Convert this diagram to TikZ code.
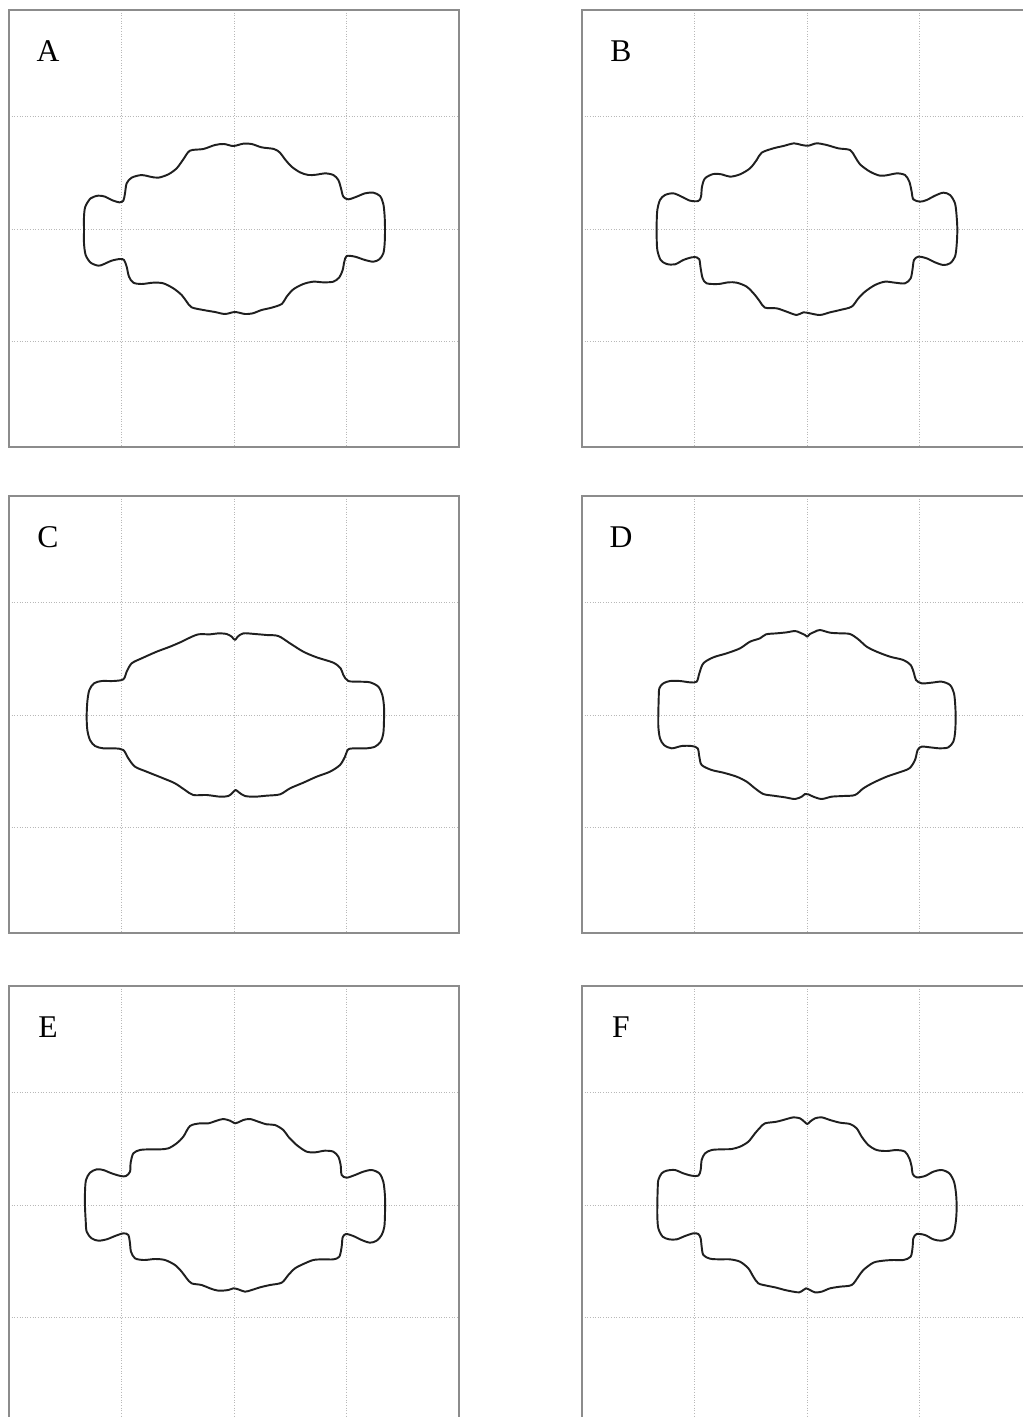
\documentclass[tikz,border=0pt]{standalone}
\usepackage{fontspec}
\setmainfont{Liberation Serif}
\usetikzlibrary{positioning}
\newcommand{\panelgrid}{%
  \draw[grid line] (-112.5,-219) -- (-112.5,218) (0,-219) -- (0,218) (112.5,-219) -- (112.5,218)
    (-225,-112.5) -- (225,-112.5) (-225,0) -- (225,0) (-225,112.5) -- (225,112.5);
  \draw[frame line] (-225,-219) rectangle (225,218);}

\begin{document}
\begin{tikzpicture}[x=0.02cm,y=-0.02cm,
  grid line/.style={draw=black!28,densely dotted,line width=0.5pt},
  frame line/.style={draw=black!45,line width=0.9pt},
  outline/.style={draw=black!88,line width=1.1pt,line join=round},
  panel label/.style={font=\fontsize{18}{20}\selectfont,inner sep=0pt}]
\clip (0,0) rectangle (1023,1417);
\fill[white] (0,0) rectangle (1023,1417);

% grids and frames
\begin{scope}[shift={(234,229)}] \panelgrid \end{scope}
\begin{scope}[shift={(807,229)}] \panelgrid \end{scope}
\begin{scope}[shift={(234,715)}] \panelgrid \end{scope}
\begin{scope}[shift={(807,715)}] \panelgrid \end{scope}
\begin{scope}[shift={(234,1205)}] \panelgrid \end{scope}
\begin{scope}[shift={(807,1205)}] \panelgrid \end{scope}

% labels
\node[panel label] (labA) at (48,51) {A};
\node[panel label] (labB) at (621,51) {B};
\node[panel label] (labC) at (48,537) {C};
\node[panel label] (labD) at (621,537) {D};
\node[panel label] (labE) at (48,1027) {E};
\node[panel label] (labF) at (621,1027) {F};

% shape A
\begin{scope}[shift={(70,130)},scale=1/3]
\draw[outline] plot[smooth cycle,tension=0.5] coordinates {
(360,62) (400,57) (435,45) (462,42) (490,48) (520,41) (545,42) (575,52) (612,57) (630,68)
(645,88) (665,110) (690,127) (715,135) (740,134) (765,130) (790,135) (805,150) (813,175)
(820,200) (835,208) (860,200) (885,190) (910,188) (930,198) (940,222) (944,260) (945,300)
(944,340) (940,370) (928,388) (910,395) (885,390) (855,380) (830,378) (823,395) (818,420)
(808,442) (790,455) (760,457) (730,455) (700,462) (670,478) (650,500) (635,522) (605,533)
(575,540) (548,550) (525,552) (495,546) (465,552) (435,546) (400,540) (365,532) (350,515)
(335,495) (310,475) (280,460) (250,458) (215,462) (190,458) (177,440) (170,410) (162,390)
(150,387) (125,392) (100,403) (85,407) (62,398) (47,375) (42,340) (42,300) (42,260)
(46,230) (62,205) (85,197) (105,200) (125,210) (148,217) (160,212) (165,190) (170,160)
(185,143) (215,135) (240,140) (265,143) (295,133) (320,115) (340,88)};
\end{scope}

% shape B
\begin{scope}[shift={(640,130)},scale=1/3]
\draw[outline] plot[smooth cycle,tension=0.5] coordinates {
(365,68) (400,55) (430,48) (462,40) (485,45) (505,47) (530,40) (560,45) (595,55) (630,60)
(645,80) (660,103) (690,125) (720,137) (745,135) (770,130) (795,135) (808,155) (815,185)
(820,208) (840,215) (860,210) (885,197) (910,188) (930,195) (945,220) (950,260) (952,300)
(950,345) (945,380) (930,400) (910,405) (885,397) (860,385) (835,380) (822,390) (818,415)
(812,445) (795,460) (765,458) (735,455) (705,465) (675,485) (655,505) (635,530) (600,540)
(570,547) (540,555) (510,550) (490,547) (470,555) (440,545) (410,535) (375,533) (360,515)
(345,495) (320,470) (290,458) (265,457) (235,462) (200,460) (188,445) (182,415) (178,388)
(170,382) (155,382) (130,390) (105,403) (80,402) (62,390) (52,360) (50,320) (50,280)
(52,240) (60,210) (75,195) (100,190) (125,200) (150,212) (175,213) (183,200) (186,170)
(195,145) (220,132) (245,133) (270,140) (300,133) (330,115) (350,90)};
\end{scope}

% shape C
\begin{scope}[shift={(70,620)},scale=1/3]
\draw[outline] plot[smooth cycle,tension=0.5] coordinates {
(355,55) (385,43) (420,43) (445,40) (470,42) (485,50) (495,60) (503,50) (520,40) (555,42)
(590,45) (625,48) (660,70) (700,95) (740,112) (790,128) (812,145) (820,165) (835,183)
(870,185) (900,187) (925,200) (937,225) (942,260) (942,300) (940,340) (932,365) (915,380)
(890,385) (860,385) (835,388) (825,410) (810,435) (780,455) (740,470) (700,488) (660,505)
(630,523) (590,527) (555,530) (525,528) (508,518) (497,510) (488,518) (475,528) (450,530)
(410,525) (370,525) (345,510) (315,490) (280,475) (230,455) (195,440) (175,415) (160,390)
(135,385) (100,385) (75,378) (60,360) (52,330) (50,290) (52,245) (58,210) (72,190)
(95,183) (130,183) (160,178) (170,155) (185,130) (215,115) (260,95) (300,80) (335,65)};
\end{scope}

% shape D
\begin{scope}[shift={(640,620)},scale=1/3]
\draw[outline] plot[smooth cycle,tension=0.5] coordinates {
(360,55) (378,43) (410,40) (440,37) (465,33) (480,38) (495,45) (502,50) (510,42) (525,35)
(540,30) (570,38) (600,40) (630,42) (655,58) (680,80) (710,95) (750,110) (790,120)
(812,135) (822,160) (828,180) (845,190) (875,188) (905,185) (930,195) (942,220) (946,260)
(947,300) (945,340) (940,365) (925,382) (900,385) (870,382) (845,380) (833,390) (825,420)
(808,445) (775,458) (740,470) (700,488) (670,505) (645,525) (610,528) (575,530) (545,537)
(520,530) (505,523) (495,522) (485,530) (465,537) (435,532) (400,527) (370,522) (345,505)
(320,485) (290,470) (250,458) (215,450) (185,435) (178,410) (173,385) (155,378) (125,378)
(95,385) (72,375) (60,355) (55,320) (55,280) (56,240) (58,205) (70,190) (90,183)
(120,183) (150,187) (170,185) (178,160) (190,130) (220,112) (260,100) (300,85) (330,65)};
\end{scope}

% shape E
\begin{scope}[shift={(70,1100)},scale=1/3]
\draw[outline] plot[smooth cycle,tension=0.5] coordinates {
(360,78) (390,70) (415,70) (440,62) (460,57) (480,62) (495,70) (505,67) (520,60) (540,57)
(565,65) (590,73) (615,75) (640,90) (655,110) (680,135) (710,155) (735,157) (765,152)
(790,155) (805,170) (812,195) (815,225) (830,233) (855,225) (880,215) (905,210) (928,220)
(940,245) (945,290) (945,340) (943,380) (935,405) (920,422) (900,428) (875,420) (850,408)
(828,402) (818,412) (815,440) (808,470) (790,478) (760,478) (730,480) (700,492) (675,505)
(655,525) (635,548) (600,555) (570,562) (545,570) (525,575) (505,568) (490,565) (475,570)
(445,572) (420,565) (395,555) (365,550) (350,535) (335,515) (315,495) (285,480) (255,477)
(222,480) (195,475) (183,455) (180,430) (175,405) (160,400) (135,408) (110,418) (85,422)
(65,415) (50,395) (47,360) (45,320) (45,275) (48,240) (60,218) (80,208) (100,210)
(125,220) (152,228) (168,228) (180,215) (182,188) (190,160) (210,150) (240,148) (270,148)
(295,145) (320,130) (340,110)};
\end{scope}

% shape F
\begin{scope}[shift={(640,1100)},scale=1/3]
\draw[outline] plot[smooth cycle,tension=0.5] coordinates {
(360,83) (375,70) (410,65) (440,57) (460,52) (480,55) (493,65) (502,72) (510,65) (525,55)
(545,52) (570,60) (600,68) (630,72) (650,85) (665,110) (685,135) (710,150) (740,153)
(770,150) (795,155) (808,175) (815,200) (818,222) (830,232) (855,228) (880,215) (905,210)
(928,220) (942,245) (948,280) (950,320) (948,360) (942,395) (930,413) (905,422) (880,418)
(855,405) (830,402) (820,415) (818,440) (812,470) (790,480) (760,480) (730,482) (700,488)
(670,510) (655,530) (635,555) (600,560) (570,565) (545,575) (525,577) (510,570) (498,565)
(490,570) (478,577) (460,575) (435,570) (405,562) (380,557) (355,550) (340,530) (325,505)
(300,485) (270,478) (240,478) (210,476) (190,465) (185,440) (182,415) (175,402) (160,400)
(135,408) (110,418) (88,418) (68,410) (55,385) (52,350) (52,310) (53,270) (55,240)
(65,220) (80,212) (105,210) (130,220) (155,227) (175,227) (182,210) (185,180) (195,160)
(215,150) (245,148) (275,147) (300,140) (325,125) (345,100)};
\end{scope}
\end{tikzpicture}
\end{document}
